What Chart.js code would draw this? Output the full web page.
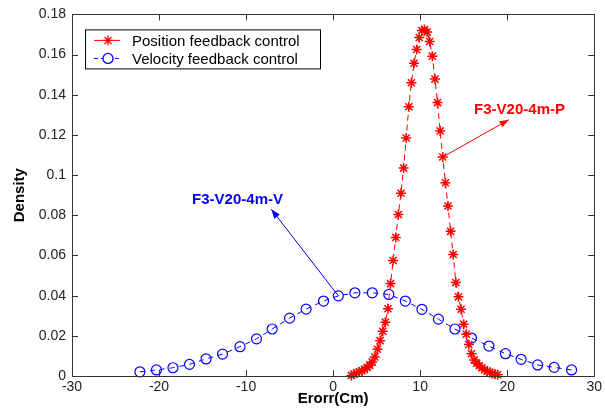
<!DOCTYPE html>
<html>
<head>
<meta charset="utf-8">
<script src="https://cdn.jsdelivr.net/npm/chart.js@4.4.1/dist/chart.umd.min.js"></script>
<style>
  html, body { margin: 0; padding: 0; background: #fff; }
  #wrap { width: 605px; height: 416px; }
</style>
</head>
<body>
<div id="wrap"><canvas id="densityChart" width="605" height="416"></canvas></div>
<script>
// Position feedback control (red stars)
var posX = [2.1, 2.4, 2.7, 3.0, 3.3, 3.6, 3.9, 4.2, 4.5, 4.8, 5.1, 5.4, 5.7, 6.0, 6.3, 6.6, 6.9, 7.2, 7.5, 7.8,
            8.1, 8.4, 8.7, 9.0, 9.3, 9.6, 9.9, 10.2, 10.5, 10.8, 11.1, 11.4, 11.7, 12.0, 12.3, 12.6, 12.9, 13.2,
            13.5, 13.8, 14.1, 14.4, 14.7, 15.0, 15.3, 15.6, 15.9, 16.2, 16.5, 16.8, 17.1, 17.4, 17.7, 18.0, 18.3,
            18.6, 18.9];
var posY = [0.0003, 0.0010, 0.0015, 0.0020, 0.0026, 0.0033, 0.0042, 0.0053, 0.0070, 0.0095, 0.0133, 0.0176,
            0.0223, 0.0268, 0.0335, 0.0460, 0.0575, 0.0690, 0.0804, 0.0910, 0.1035, 0.1185, 0.1340, 0.1460,
            0.1557, 0.1625, 0.1685, 0.1720, 0.1725, 0.1712, 0.1665, 0.1592, 0.1478, 0.1361, 0.1220, 0.1090,
            0.0962, 0.0846, 0.0720, 0.0605, 0.0465, 0.0394, 0.0332, 0.0258, 0.0208, 0.0157, 0.0111, 0.0080,
            0.0064, 0.0051, 0.0041, 0.0031, 0.0024, 0.0018, 0.0013, 0.0009, 0.0006];

// Velocity feedback control (blue circles)
var velX = [-22.2, -20.3, -18.4, -16.5, -14.6, -12.7, -10.7, -8.8, -7.0, -5.0, -3.1, -1.1, 0.6, 2.5, 4.5,
            6.4, 8.3, 10.2, 12.1, 14.0, 15.9, 17.9, 19.8, 21.6, 23.5, 25.4, 27.4];
var velY = [0.0021, 0.0030, 0.0041, 0.0058, 0.0085, 0.0109, 0.0146, 0.0185, 0.0234, 0.0288, 0.0333, 0.0373,
            0.0399, 0.0414, 0.0414, 0.0406, 0.0373, 0.0332, 0.0283, 0.0234, 0.0189, 0.0149, 0.0111, 0.0083,
            0.0055, 0.0043, 0.0030];

var seriesNames = ['Position feedback control', 'Velocity feedback control'];
var xTicks = [-30, -20, -10, 0, 10, 20, 30];
var yTicks = [0, 0.02, 0.04, 0.06, 0.08, 0.1, 0.12, 0.14, 0.16, 0.18];

// annotation labels: text, text anchor, arrow head (data units), index of the point the arrow starts at
var noteP = { text: 'F3-V20-4m-P', x: 16.2, y: 0.1325, headX: 20.2, headY: 0.1276, from: 35 };
var noteV = { text: 'F3-V20-4m-V', x: -16.2, y: 0.0875, headX: -7.1, headY: 0.083, from: 12 };

var RED = '#ff0000';
var BLUE = '#0000ff';
var FONT = '"Liberation Sans", Arial, sans-serif';

function toPoints(xs, ys) {
    return xs.map(function (x, i) { return { x: x, y: ys[i] }; });
}

function drawArrow(ctx, x1, y1, x2, y2, color) {
    var ang = Math.atan2(y2 - y1, x2 - x1);
    ctx.strokeStyle = color;
    ctx.fillStyle = color;
    ctx.lineWidth = 1;
    ctx.beginPath();
    ctx.moveTo(x1, y1);
    ctx.lineTo(x2, y2);
    ctx.stroke();
    ctx.beginPath();
    ctx.moveTo(x2, y2);
    ctx.lineTo(x2 - 10 * Math.cos(ang - 0.35), y2 - 10 * Math.sin(ang - 0.35));
    ctx.lineTo(x2 - 10 * Math.cos(ang + 0.35), y2 - 10 * Math.sin(ang + 0.35));
    ctx.closePath();
    ctx.fill();
}

// matlab style box, inward ticks, legend and arrows
var matlabDecor = {
    id: 'matlabDecor',
    afterDatasetsDraw: function (chart) {
        var ctx = chart.ctx;
        var a = chart.chartArea;
        var xs = chart.scales.x;
        var ys = chart.scales.y;
        ctx.save();

        // frame
        ctx.strokeStyle = '#333';
        ctx.lineWidth = 1;
        ctx.strokeRect(Math.round(a.left) + 0.5, Math.round(a.top) + 0.5,
                       Math.round(a.right - a.left), Math.round(a.bottom - a.top));

        // ticks pointing inwards
        ctx.beginPath();
        xTicks.forEach(function (v) {
            var px = Math.round(xs.getPixelForValue(v)) + 0.5;
            ctx.moveTo(px, a.bottom); ctx.lineTo(px, a.bottom - 6);
            ctx.moveTo(px, a.top); ctx.lineTo(px, a.top + 6);
        });
        yTicks.forEach(function (v) {
            var py = Math.round(ys.getPixelForValue(v)) + 0.5;
            ctx.moveTo(a.left, py); ctx.lineTo(a.left + 6, py);
            ctx.moveTo(a.right, py); ctx.lineTo(a.right - 6, py);
        });
        ctx.stroke();

        // annotations
        ctx.font = 'bold 15px ' + FONT;
        ctx.textBaseline = 'middle';
        ctx.textAlign = 'left';
        var pPt = chart.getDatasetMeta(0).data[noteP.from];
        drawArrow(ctx, pPt.x, pPt.y, xs.getPixelForValue(noteP.headX), ys.getPixelForValue(noteP.headY), RED);
        ctx.fillStyle = RED;
        ctx.fillText(noteP.text, xs.getPixelForValue(noteP.x), ys.getPixelForValue(noteP.y));
        var vPt = chart.getDatasetMeta(1).data[noteV.from];
        drawArrow(ctx, vPt.x, vPt.y, xs.getPixelForValue(noteV.headX), ys.getPixelForValue(noteV.headY), BLUE);
        ctx.fillStyle = BLUE;
        ctx.fillText(noteV.text, xs.getPixelForValue(noteV.x), ys.getPixelForValue(noteV.y));

        // legend box
        var lx = a.left + 13, ly = a.top + 15, lw = 235, lh = 39;
        ctx.fillStyle = '#fff';
        ctx.fillRect(lx, ly, lw, lh);
        ctx.strokeStyle = '#000';
        ctx.strokeRect(lx + 0.5, ly + 0.5, lw, lh);
        ctx.font = '15px ' + FONT;
        var rows = [
            { color: RED, fill: RED, dash: [], style: 'star', r: 5 },
            { color: BLUE, fill: '#fff', dash: [4, 3], style: 'circle', r: 5 }
        ];
        rows.forEach(function (row, i) {
            var cy = ly + 11 + i * 18;
            ctx.strokeStyle = row.color;
            ctx.lineWidth = 1;
            ctx.setLineDash(row.dash);
            ctx.beginPath();
            ctx.moveTo(lx + 9, cy);
            ctx.lineTo(lx + 35, cy);
            ctx.stroke();
            ctx.setLineDash([]);
            ctx.fillStyle = row.fill;
            ctx.lineWidth = 1.3;
            Chart.helpers.drawPoint(ctx, { pointStyle: row.style, radius: row.r, rotation: 0, borderWidth: 1.3 }, lx + 23, cy);
            ctx.fillStyle = '#000';
            ctx.fillText(seriesNames[i], lx + 47, cy + 1);
        });

        ctx.restore();
    }
};

var ctx = document.getElementById('densityChart').getContext('2d');

var chart = new Chart(ctx, {
    type: 'scatter',
    data: {
        datasets: [{
            label: seriesNames[0],
            data: toPoints(posX, posY),
            showLine: true,
            borderColor: RED,
            borderWidth: 1,
            borderDash: [6, 4],
            pointStyle: 'star',
            pointRadius: 5,
            pointBorderWidth: 1.5,
            pointBorderColor: RED,
            pointBackgroundColor: RED,
            clip: false
        }, {
            label: seriesNames[1],
            data: toPoints(velX, velY),
            showLine: true,
            borderColor: BLUE,
            borderWidth: 1,
            borderDash: [5, 5],
            pointStyle: 'circle',
            pointRadius: 5,
            pointBorderWidth: 1.2,
            pointBorderColor: BLUE,
            pointBackgroundColor: 'rgba(0,0,0,0)',
            clip: false
        }]
    },
    options: {
        responsive: false,
        animation: false,
        layout: { padding: { top: 13, right: 8, left: 0, bottom: 0 } },
        plugins: {
            legend: { display: false },
            tooltip: { enabled: false }
        },
        scales: {
            x: {
                type: 'linear',
                min: -30,
                max: 30,
                afterFit: function (s) { s.height = 40; },
                afterBuildTicks: function (s) { s.ticks = xTicks.map(function (v) { return { value: v }; }); },
                grid: { display: false, drawTicks: false },
                border: { display: false },
                ticks: {
                    padding: 3,
                    color: '#222',
                    font: { family: FONT, size: 14 },
                    maxRotation: 0
                },
                title: {
                    display: true,
                    text: 'Erorr(Cm)',
                    color: '#000',
                    font: { family: FONT, size: 15, weight: 'bold' },
                    padding: { top: 0, bottom: 8 }
                }
            },
            y: {
                type: 'linear',
                min: 0,
                max: 0.18,
                afterFit: function (s) { s.width = 72; },
                afterBuildTicks: function (s) { s.ticks = yTicks.map(function (v) { return { value: v }; }); },
                grid: { display: false, drawTicks: false },
                border: { display: false },
                ticks: {
                    padding: 6,
                    color: '#222',
                    font: { family: FONT, size: 14 },
                    callback: function (v) { return String(parseFloat(v.toFixed(2))); }
                },
                title: {
                    display: true,
                    text: 'Density',
                    color: '#000',
                    font: { family: FONT, size: 15, weight: 'bold' },
                    padding: { top: 11, bottom: 11 }
                }
            }
        }
    },
    plugins: [matlabDecor]
});
</script>
</body>
</html>
